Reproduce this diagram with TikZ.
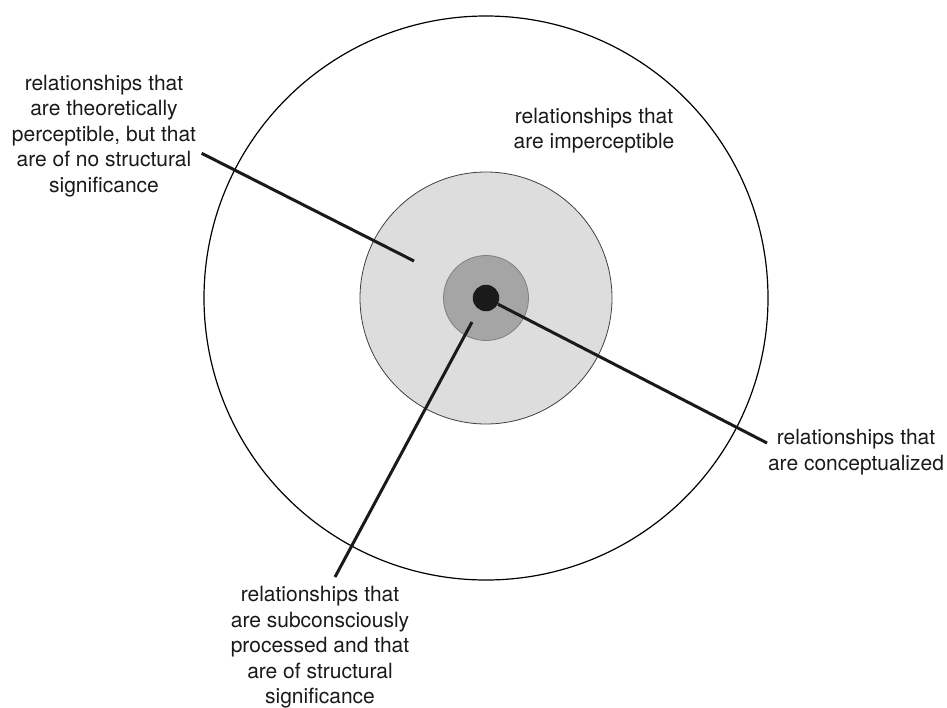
\documentclass[tikz,border=0pt]{standalone}
\usepackage{fontspec}
\setmainfont{TeX Gyre Heros}
\definecolor{ltgray}{HTML}{DDDDDD}
\definecolor{mdgray}{HTML}{A5A5A5}
\definecolor{ink}{HTML}{1A1A1A}
\begin{document}
\begin{tikzpicture}[x=1pt,y=-1pt,
		lbl/.style={align=center,inner sep=0pt,text=ink,font=\fontsize{21}{25.4}\selectfont},
		ring/.style={circle,inner sep=0pt},
		lead/.style={line width=3pt,draw=ink}]
			\useasboundingbox (0,0) rectangle (947,707);
			
			% zones
			\node[ring,draw=black,line width=1.2pt,minimum size=564pt] (outer) at (486,298) {};
			\node[ring,fill=ltgray,draw=black!75,line width=0.8pt,minimum size=252pt] (inner) at (486,298) {};
			\node[ring,fill=mdgray,draw=black!50,line width=0.8pt,minimum size=85pt] (core) at (486,298) {};
			\node[ring,fill=ink,minimum size=26.5pt] (dot) at (486,298) {};
			
			% labels
			\node[lbl] (perc) at (104,136) {relationships that\\are theoretically\\perceptible, but that\\are of no structural\\significance};
			\node[lbl] (imperc) at (594,130.5) {relationships that\\are imperceptible};
			\node[lbl] (concept) at (856,452) {relationships that\\are conceptualized};
			\node[lbl] (subcon) at (320,647.4) {relationships that\\are subconsciously\\processed and that\\are of structural\\significance};
			
			% leaders
			\coordinate (a1) at (201.7,153.3);
			\coordinate (a2) at (414,261);
			\coordinate (b2) at (767,443);
			\coordinate (c1) at (472,322);
			\coordinate (c2) at (335,577);
			\draw[lead] (a1) -- (a2);
			\draw[lead] (dot) -- (b2);
			\draw[lead] (c1) -- (c2);
		\end{tikzpicture}
\end{document}
